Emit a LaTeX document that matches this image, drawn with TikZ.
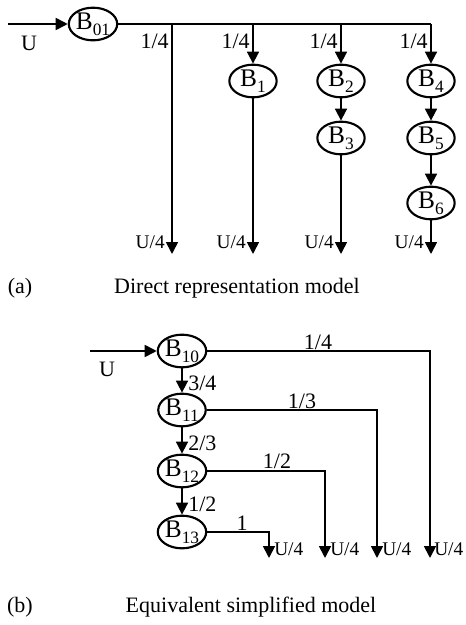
\documentclass[tikz,border=0pt]{standalone}
\usepackage{fontspec}
\setmainfont{Liberation Serif}
\usetikzlibrary{shapes.geometric,arrows.meta}

\newcommand{\bsub}[1]{\raisebox{-0.5ex}{\fontsize{13}{13}\selectfont #1}}

\begin{document}
\begin{tikzpicture}[x=0.75pt,y=0.75pt,yscale=-1,xscale=1,
  blk/.style={ellipse,draw,line width=1.6pt,minimum width=35.5pt,minimum height=24.5pt,inner sep=0pt,font=\fontsize{19}{19}\selectfont},
  lbl/.style={inner sep=0.75pt,font=\fontsize{16.5}{18}\selectfont},
  outlbl/.style={inner sep=0.75pt,font=\fontsize{14.5}{16}\selectfont},
  capn/.style={inner sep=0.75pt,font=\fontsize{16.5}{18}\selectfont},
  arr/.style={line width=1.3pt,-{Triangle[length=9pt,width=9pt]}},
  ln/.style={line width=1.3pt}]
\useasboundingbox (0,0) rectangle (465,625);

% (a) direct representation
\node[blk] (b01) at (93,24) {B\bsub{01}};
\node[blk] (b1) at (253,81) {B\bsub{1}};
\node[blk] (b2) at (341,81) {B\bsub{2}};
\node[blk] (b3) at (341,138) {B\bsub{3}};
\node[blk] (b4) at (431,81) {B\bsub{4}};
\node[blk] (b5) at (431,138) {B\bsub{5}};
\node[blk] (b6) at (431,203) {B\bsub{6}};

\coordinate (in1) at (8,24);
\coordinate (t1) at (172,24);
\coordinate (t2) at (253,24);
\coordinate (t3) at (341,24);
\coordinate (t4) at (431,24);
\coordinate (e1) at (172,254);
\coordinate (e2) at (253,254);
\coordinate (e3) at (341,254);
\coordinate (e4) at (431,254);

\draw[arr] (in1) -- (b01);
\draw[ln] (b01) -- (t4);
\draw[arr] (t1) -- (e1);
\draw[arr] (t2) -- (b1);
\draw[arr] (b1) -- (e2);
\draw[arr] (t3) -- (b2);
\draw[arr] (b2) -- (b3);
\draw[arr] (b3) -- (e3);
\draw[arr] (t4) -- (b4);
\draw[arr] (b4) -- (b5);
\draw[arr] (b5) -- (b6);
\draw[arr] (b6) -- (e4);

\node[lbl] (u1) at (29,43) {U};
\node[lbl,anchor=east] (f1) at (170,41) {1/4};
\node[lbl,anchor=east] (f2) at (251,41) {1/4};
\node[lbl,anchor=east] (f3) at (339,41) {1/4};
\node[lbl,anchor=east] (f4) at (429,41) {1/4};
\node[outlbl,anchor=east] (q1) at (166,242) {U/4};
\node[outlbl,anchor=east] (q2) at (247,242) {U/4};
\node[outlbl,anchor=east] (q3) at (335,242) {U/4};
\node[outlbl,anchor=east] (q4) at (425,242) {U/4};

\node[capn] (capa) at (20,288) {(a)};
\node[capn] (txta) at (237,288) {Direct representation model};

% (b) equivalent simplified
\node[blk] (b10) at (182,351) {B\bsub{10}};
\node[blk] (b11) at (182,410) {B\bsub{11}};
\node[blk] (b12) at (182,471) {B\bsub{12}};
\node[blk] (b13) at (182,532) {B\bsub{13}};

\coordinate (in2) at (90,351);
\coordinate (k1) at (430,351);
\coordinate (k2) at (377,410);
\coordinate (k3) at (325,471);
\coordinate (k4) at (269,532);
\coordinate (g1) at (430,558);
\coordinate (g2) at (377,558);
\coordinate (g3) at (325,558);
\coordinate (g4) at (269,558);

\draw[arr] (in2) -- (b10);
\draw[arr] (b10) -- (b11);
\draw[arr] (b11) -- (b12);
\draw[arr] (b12) -- (b13);
\draw[arr] (b10) -- (k1) -- (g1);
\draw[arr] (b11) -- (k2) -- (g2);
\draw[arr] (b12) -- (k3) -- (g3);
\draw[arr] (b13) -- (k4) -- (g4);

\node[lbl] (u2) at (107,369) {U};
\node[lbl,anchor=west] (r1) at (187,383) {3/4};
\node[lbl,anchor=west] (r2) at (187,443) {2/3};
\node[lbl,anchor=west] (r3) at (187,504) {1/2};
\node[lbl] (h1) at (318,342) {1/4};
\node[lbl] (h2) at (302,401) {1/3};
\node[lbl] (h3) at (277,461) {1/2};
\node[lbl] (h4) at (242,523) {1};
\node[outlbl,anchor=west] (w1) at (273,549) {U/4};
\node[outlbl,anchor=west] (w2) at (329,549) {U/4};
\node[outlbl,anchor=west] (w3) at (381,549) {U/4};
\node[outlbl,anchor=west] (w4) at (433,549) {U/4};

\node[capn] (capb) at (20,607) {(b)};
\node[capn] (txtb) at (251,607) {Equivalent simplified model};

\end{tikzpicture}
\end{document}
